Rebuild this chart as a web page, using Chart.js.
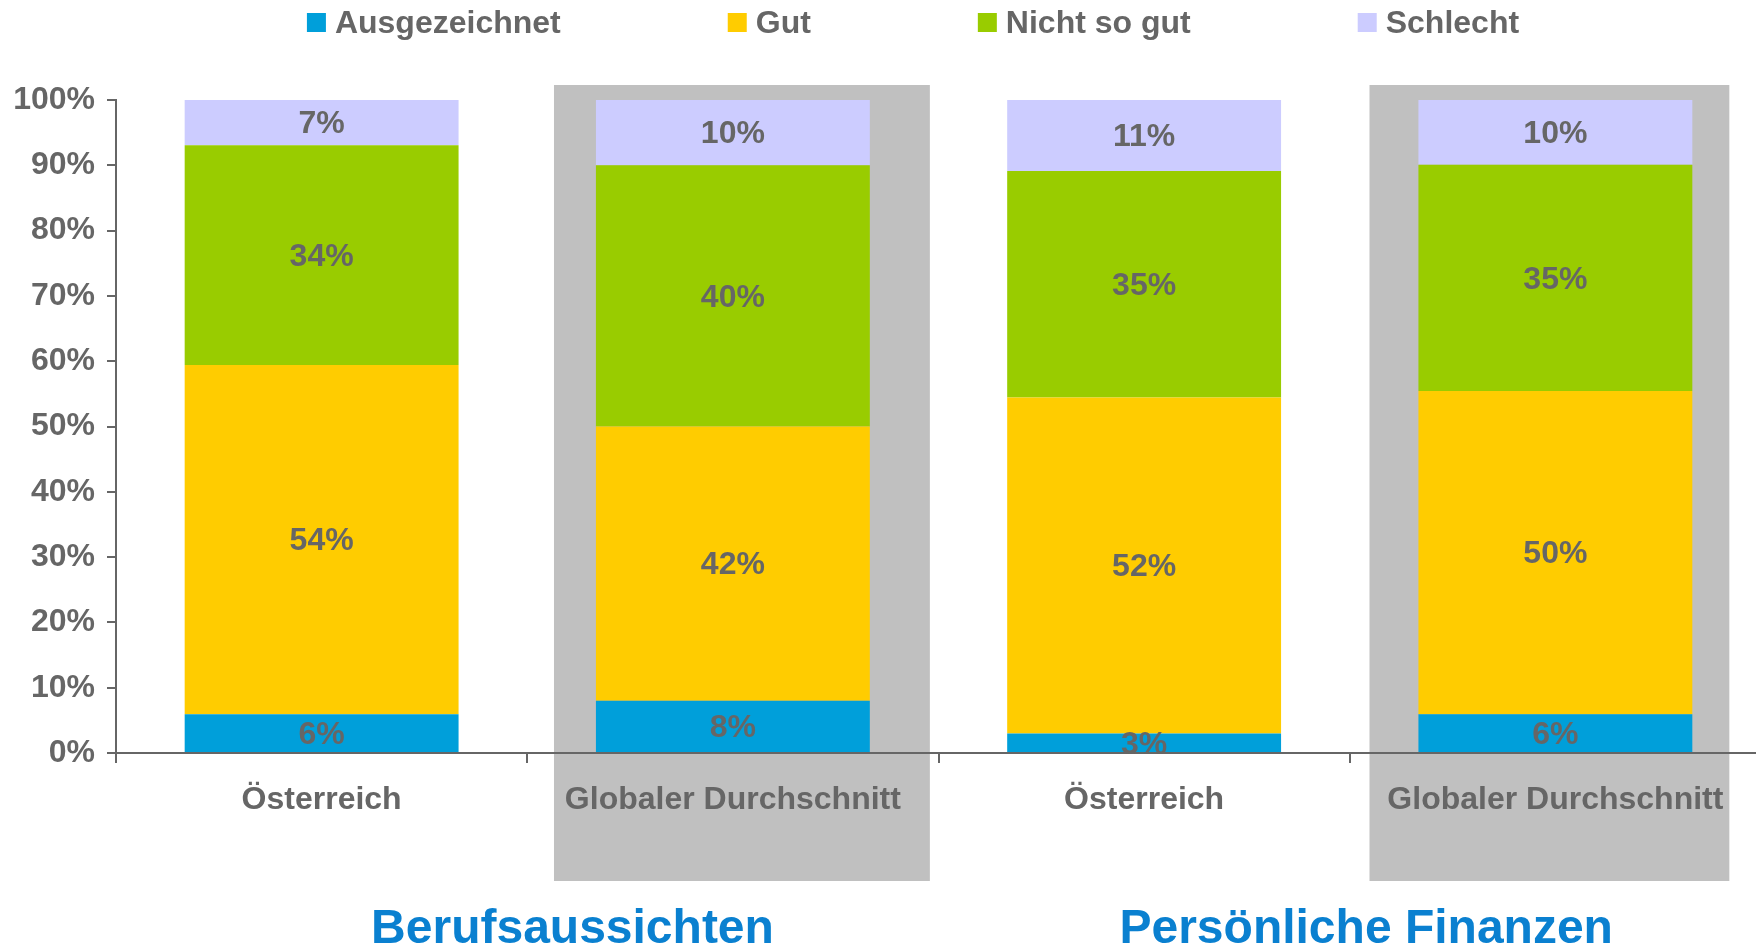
<!DOCTYPE html>
<html lang="de">
<head>
<meta charset="utf-8">
<title>Berufsaussichten und persönliche Finanzen</title>
<script src="https://cdn.jsdelivr.net/npm/chart.js@4.4.1/dist/chart.umd.min.js"></script>
<style>
  html, body { margin: 0; padding: 0; background: #fff; overflow: hidden; }
  /* plot runs a few pixels past the right edge, as in the original slide */
  #wrap { width: 1761px; height: 946px; position: relative; }
</style>
</head>
<body>
<div id="wrap"><canvas id="chart"></canvas></div>
<script>
// --- data ---
const categories = ['Österreich', 'Globaler Durchschnitt', 'Österreich', 'Globaler Durchschnitt'];
const groupTitles = ['Berufsaussichten', 'Persönliche Finanzen'];
const seriesNames = ['Ausgezeichnet', 'Gut', 'Nicht so gut', 'Schlecht'];
const ausgezeichnet = [6, 8, 3, 6];
const gut = [54, 42, 52, 50];
const nichtSoGut = [34, 40, 35, 35];
const schlecht = [7, 10, 11, 10];
const yTicks = [0, 10, 20, 30, 40, 50, 60, 70, 80, 90, 100];

const seriesColors = ['#009fda', '#ffcc00', '#99cc00', '#ccccff'];
const textGray = '#666666';
const titleBlue = '#0a80d0';
const FONT = "'Liberation Sans', Arial, Helvetica, sans-serif";

Chart.defaults.font.family = FONT;
Chart.defaults.font.weight = 'bold';
Chart.defaults.font.size = 32;
Chart.defaults.color = textGray;

const raw = [ausgezeichnet, gut, nichtSoGut, schlecht];
// 100% stacked: each column is scaled to its own total
const totals = categories.map((_, i) => raw.reduce((s, arr) => s + arr[i], 0));
const shares = raw.map(arr => arr.map((v, i) => v / totals[i] * 100));

// grey panels behind the "Globaler Durchschnitt" columns
const backdrop = {
  id: 'backdrop',
  beforeDraw(chart) {
    const { ctx, scales: { x } } = chart;
    const w = x.getPixelForValue(1) - x.getPixelForValue(0);
    ctx.save();
    ctx.fillStyle = '#c0c0c0';
    categories.forEach((c, i) => {
      if (i % 2 === 0) return;
      const cx = x.getPixelForValue(i);
      const left = cx - w * (i === 1 ? 0.435 : 0.452);
      const right = cx + w * (i === 1 ? 0.479 : 0.423);
      ctx.fillRect(left, 85, right - left, 796);
    });
    ctx.restore();
  }
};

// value labels in the middle of every segment
const segmentLabels = {
  id: 'segmentLabels',
  afterDatasetsDraw(chart) {
    const { ctx, chartArea } = chart;
    ctx.save();
    ctx.font = `bold 32px ${FONT}`;
    ctx.fillStyle = textGray;
    ctx.textAlign = 'center';
    ctx.textBaseline = 'middle';
    chart.data.datasets.forEach((ds, d) => {
      chart.getDatasetMeta(d).data.forEach((bar, i) => {
        const top = Math.max(bar.y, chartArea.top);
        ctx.fillText(raw[d][i] + '%', bar.x, (top + bar.base) / 2 + 2);
      });
    });
    ctx.restore();
  }
};

// legend row and group titles
const extras = {
  id: 'extras',
  afterDraw(chart) {
    const { ctx, scales: { x } } = chart;
    ctx.save();
    ctx.font = `bold 32px ${FONT}`;
    ctx.textBaseline = 'middle';
    const box = 19, gap = 9, spacing = 167;
    const widths = seriesNames.map(n => ctx.measureText(n).width);
    const total = widths.reduce((s, w) => s + box + gap + w, 0) + spacing * (seriesNames.length - 1);
    let lx = 913 - total / 2;
    seriesNames.forEach((n, k) => {
      ctx.fillStyle = seriesColors[k];
      ctx.fillRect(lx, 13, box, box);
      ctx.fillStyle = textGray;
      ctx.textAlign = 'left';
      ctx.fillText(n, lx + box + gap, 24);
      lx += box + gap + widths[k] + spacing;
    });

    ctx.font = `bold 48px ${FONT}`;
    ctx.fillStyle = titleBlue;
    ctx.textAlign = 'center';
    const groupPos = [0.61, 2.54];
    groupTitles.forEach((t, g) => {
      const px = x.getPixelForValue(0) + groupPos[g] * (x.getPixelForValue(1) - x.getPixelForValue(0));
      ctx.fillText(t, px, 930);
    });
    ctx.restore();
  }
};

new Chart(document.getElementById('chart'), {
  type: 'bar',
  data: {
    labels: categories,
    datasets: seriesNames.map((name, k) => ({
      label: name,
      data: shares[k],
      backgroundColor: seriesColors[k],
      borderWidth: 0,
      barPercentage: 1,
      categoryPercentage: 0.666
    }))
  },
  options: {
    responsive: true,
    maintainAspectRatio: false,
    animation: false,
    layout: { padding: { top: 100, left: 0, right: 0, bottom: 0 } },
    plugins: {
      legend: { display: false },
      tooltip: { enabled: false }
    },
    scales: {
      x: {
        stacked: true,
        grid: { drawOnChartArea: false, offset: true, tickLength: 10, color: '#666', lineWidth: 2 },
        border: { color: '#666', width: 2 },
        ticks: { padding: 18, color: textGray, font: { size: 32, weight: 'bold' }, maxRotation: 0, autoSkip: false },
        afterFit(scale) { scale.height = 193; }
      },
      y: {
        stacked: true,
        min: 0,
        max: 100,
        afterBuildTicks(scale) { scale.ticks = yTicks.map(v => ({ value: v })); },
        grid: { drawOnChartArea: false, tickLength: 9, color: '#666', lineWidth: 2 },
        border: { color: '#666', width: 2 },
        ticks: { padding: 12, color: textGray, font: { size: 32, weight: 'bold' }, callback: v => v + '%' },
        afterFit(scale) { scale.width = 116; }
      }
    }
  },
  plugins: [backdrop, segmentLabels, extras]
});
</script>
</body>
</html>
